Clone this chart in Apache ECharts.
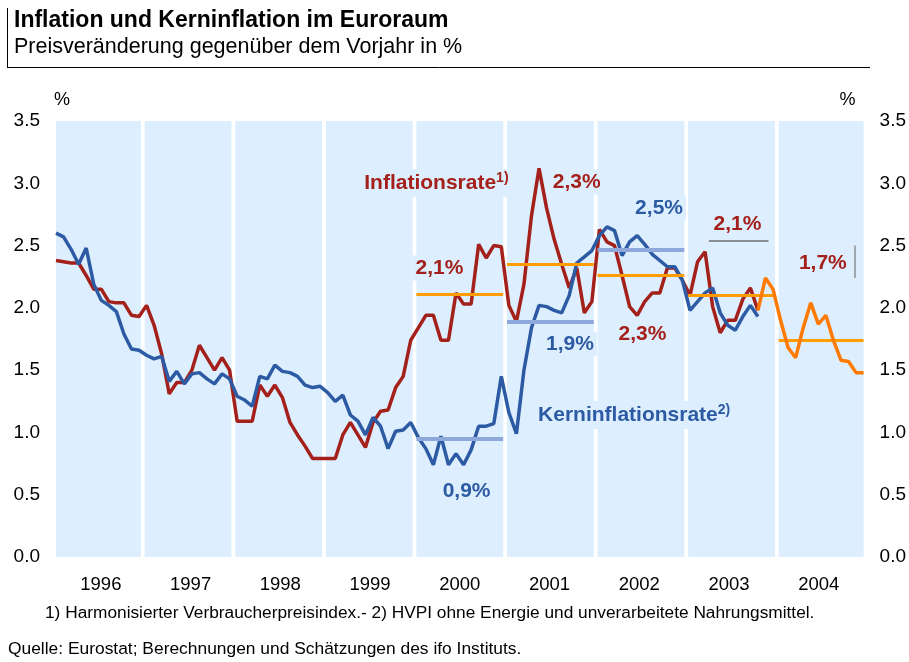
<!DOCTYPE html>
<html>
<head>
<meta charset="utf-8">
<script src="https://cdn.jsdelivr.net/npm/echarts@6/dist/echarts.min.js"></script>
<style>
  html, body { margin: 0; padding: 0; background: #fff; }
  #chart { width: 909px; height: 662px; }
</style>
</head>
<body>
<div id="chart"></div>
<script>
// Jahre (Achse)
var years = ['1996', '1997', '1998', '1999', '2000', '2001', '2002', '2003', '2004'];

// Monatswerte ab Jan 1996 (Index 0) bis Okt 2003 (Index 93)
var inflation = [
  2.38, 2.37, 2.36, 2.36, 2.26, 2.15, 2.15, 2.05, 2.04, 2.04, 1.94, 1.93,
  2.02, 1.86, 1.63, 1.31, 1.40, 1.40, 1.50, 1.70, 1.60, 1.50, 1.60, 1.50,
  1.09, 1.09, 1.09, 1.38, 1.29, 1.38, 1.28, 1.08, 0.98, 0.89, 0.79, 0.79,
  0.79, 0.79, 0.98, 1.08, 0.98, 0.88, 1.08, 1.17, 1.18, 1.36, 1.45, 1.74,
  1.84, 1.94, 1.94, 1.74, 1.74, 2.12, 2.03, 2.03, 2.51, 2.40, 2.50, 2.49,
  2.02, 1.89, 2.19, 2.74, 3.12, 2.80, 2.55, 2.35, 2.16, 2.32, 1.96, 2.05,
  2.63, 2.53, 2.50, 2.26, 2.01, 1.94, 2.05, 2.12, 2.12, 2.32, 2.32, 2.22,
  2.10, 2.37, 2.45, 2.01, 1.80, 1.90, 1.90, 2.07, 2.16, 1.98
];
var core = [
  2.60, 2.57, 2.47, 2.35, 2.48, 2.19, 2.06, 2.02, 1.97, 1.79, 1.67, 1.66,
  1.62, 1.59, 1.61, 1.41, 1.49, 1.39, 1.47, 1.48, 1.43, 1.39, 1.47, 1.43,
  1.29, 1.26, 1.21, 1.45, 1.43, 1.54, 1.49, 1.48, 1.45, 1.38, 1.36, 1.37,
  1.32, 1.25, 1.30, 1.14, 1.09, 0.98, 1.12, 1.05, 0.87, 1.01, 1.02, 1.08,
  0.96, 0.87, 0.74, 0.97, 0.74, 0.83, 0.74, 0.86, 1.05, 1.05, 1.07, 1.45,
  1.16, 0.99, 1.50, 1.84, 2.02, 2.01, 1.98, 1.96, 2.10, 2.36, 2.41, 2.46,
  2.58, 2.65, 2.62, 2.42, 2.53, 2.58, 2.51, 2.43, 2.38, 2.33, 2.33, 2.22,
  1.98, 2.05, 2.12, 2.16, 1.96, 1.86, 1.82, 1.93, 2.02, 1.93
];
// Prognose ab Okt 2003 (Index 93) bis Dez 2004
var forecastStart = 93;
var forecast = [1.98, 2.24, 2.15, 1.90, 1.68, 1.60, 1.84, 2.04, 1.87, 1.94, 1.74, 1.58, 1.57, 1.48, 1.48];

// Jahresdurchschnitte
var inflAvgYears = [2000, 2001, 2002, 2003, 2004];
var inflAvg = [2.11, 2.35, 2.26, 2.10, 1.74];
var coreAvgYears = [2000, 2001, 2002];
var coreAvg = [0.95, 1.89, 2.47];

var RED = '#a3211a', BLUE = '#2d5ba3', ORANGE = '#ff7a00', AVG_OR = '#ff9c00', AVG_BL = '#8fa8db';
var BAND = '#ddeeff';
var FONT = '"Liberation Sans", Arial, sans-serif';

function idx(arr, start) {
  return arr.map(function (v, i) { return [start + i, v]; });
}
function yearStart(y) { var k = y - 1996; return k === 0 ? 0 : 12 * k - 0.25; }
function yearEnd(y) { var k = y - 1996; return k === 8 ? 107 : 12 * k + 11.25; }

var bands = years.map(function (y) {
  y = +y;
  return [{ xAxis: yearStart(y), yAxis: 0 }, { xAxis: yearEnd(y), yAxis: 3.5 }];
});

var avgLines = [];
inflAvgYears.forEach(function (y, i) {
  avgLines.push([{ coord: [yearStart(y), inflAvg[i]], lineStyle: { color: AVG_OR, width: 3, type: 'solid' } },
                 { coord: [yearEnd(y), inflAvg[i]] }]);
});
coreAvgYears.forEach(function (y, i) {
  avgLines.push([{ coord: [yearStart(y), coreAvg[i]], lineStyle: { color: AVG_BL, width: 4, type: 'solid' } },
                 { coord: [yearEnd(y), coreAvg[i]] }]);
});
// graue Hilfslinien an den Beschriftungen 2003/2004
avgLines.push([{ coord: [86.5, 2.54], lineStyle: { color: '#8a8f96', width: 2, type: 'solid' } }, { coord: [94.4, 2.54] }]);
avgLines.push([{ coord: [105.85, 2.50], lineStyle: { color: '#8a8f96', width: 1.5, type: 'solid' } }, { coord: [105.85, 2.24] }]);

function note(text, x, y, color, extra) {
  var lbl = {
    show: true, position: 'inside', formatter: text, color: color, opacity: 1,
    fontFamily: FONT, fontWeight: 'bold', fontSize: 21,
    textBorderWidth: 0, backgroundColor: BAND, padding: [2, 3],
    rich: {
      a: { color: color, fontFamily: FONT, fontWeight: 'bold', fontSize: 21 },
      s: { color: color, fontFamily: FONT, fontWeight: 'bold', fontSize: 14, padding: [0, 0, 10, 0] }
    }
  };
  if (extra) Object.assign(lbl, extra);
  return { value: [x, y], label: lbl };
}

var notes = [
  note('{a|Inflationsrate}{s|1)}', 50.4, 3.0, RED),
  note('2,3%', 69.0, 3.01, RED),
  note('2,1%', 50.8, 2.32, RED),
  note('1,9%', 68.1, 1.71, BLUE),
  note('0,9%', 54.4, 0.53, BLUE),
  note('{a|Kerninflationsrate}{s|2)}', 76.6, 1.14, BLUE),
  note('2,5%', 79.9, 2.80, BLUE),
  note('2,3%', 77.7, 1.79, RED),
  note('2,1%', 90.3, 2.67, RED, { borderColor: '#e2eaf3', borderWidth: 1, padding: [5, 6] }),
  note('1,7%', 101.6, 2.36, RED, { borderColor: '#e2eaf3', borderWidth: 1, padding: [5, 6] })
];

var yAxisBase = function (pos) {
  return {
    type: 'value', position: pos, min: 0, max: 3.5, interval: 0.5,
    axisLine: { show: false },
    splitLine: { show: false },
    axisTick: { show: true, inside: true, length: 6, lineStyle: { color: '#fff', width: 2 } },
    axisLabel: { color: '#000', fontSize: 19, fontFamily: FONT, margin: 16,
      formatter: function (v) { return v.toFixed(1); } },
    name: '%', nameLocation: 'end', nameGap: 12,
    nameTextStyle: { color: '#000', fontSize: 18, fontFamily: FONT, align: 'center',
      padding: pos === 'left' ? [0, 0, 0, 12] : [0, 32, 0, 0] }
  };
};

var chart = echarts.init(document.getElementById('chart'));
chart.setOption({
  animation: false,
  title: [
    { text: 'Inflation und Kerninflation im Euroraum', left: 14, top: 9, padding: 0,
      textStyle: { fontFamily: FONT, fontSize: 23, fontWeight: 'bold', color: '#000' } },
    { text: 'Preisveränderung gegenüber dem Vorjahr in %', left: 14, top: 36, padding: 0,
      textStyle: { fontFamily: FONT, fontSize: 21.5, fontWeight: 'normal', color: '#000' } }
  ],
  graphic: [
    { type: 'line', shape: { x1: 7.5, y1: 8, x2: 7.5, y2: 67.5 }, style: { stroke: '#000', lineWidth: 1 } },
    { type: 'line', shape: { x1: 7, y1: 67.5, x2: 870, y2: 67.5 }, style: { stroke: '#000', lineWidth: 1 } },
    { type: 'text', left: 45, top: 605,
      style: { text: '1) Harmonisierter Verbraucherpreisindex.- 2) HVPI ohne Energie und unverarbeitete Nahrungsmittel.',
        fontFamily: FONT, fontSize: 17.3, fill: '#000' } },
    { type: 'text', left: 8, top: 641,
      style: { text: 'Quelle: Eurostat; Berechnungen und Schätzungen des ifo Instituts.',
        fontFamily: FONT, fontSize: 17.4, fill: '#000' } }
  ],
  grid: { left: 56, right: 43, top: 121, bottom: 105 },
  xAxis: [
    { type: 'value', min: 0, max: 107, show: false },
    { type: 'category', data: years, position: 'bottom', boundaryGap: true,
      axisLine: { show: false }, axisTick: { show: false },
      axisLabel: { color: '#000', fontSize: 18.5, fontFamily: FONT, margin: 18 } }
  ],
  yAxis: [yAxisBase('left'), yAxisBase('right')],
  series: [
    { type: 'line', xAxisIndex: 0, yAxisIndex: 0, data: [], silent: true, z: 1,
      markArea: { silent: true, itemStyle: { color: BAND }, data: bands },
      markLine: { silent: true, symbol: 'none', label: { show: false }, data: avgLines }
    },
    { name: 'Inflationsrate', type: 'line', xAxisIndex: 0, yAxisIndex: 0, z: 3,
      data: idx(inflation, 0), showSymbol: false, lineStyle: { color: RED, width: 3.5 } },
    { name: 'Kerninflationsrate', type: 'line', xAxisIndex: 0, yAxisIndex: 0, z: 4,
      data: idx(core, 0), showSymbol: false, lineStyle: { color: BLUE, width: 3.5 } },
    { name: 'Prognose', type: 'line', xAxisIndex: 0, yAxisIndex: 0, z: 5,
      data: idx(forecast, forecastStart), showSymbol: false, lineStyle: { color: ORANGE, width: 3.5 } },
    { name: 'Beschriftung', type: 'scatter', xAxisIndex: 0, yAxisIndex: 0, z: 2, silent: true,
      symbolSize: 1, itemStyle: { color: 'rgba(0,0,0,0)', opacity: 1 }, data: notes }
  ]
});
</script>
</body>
</html>
